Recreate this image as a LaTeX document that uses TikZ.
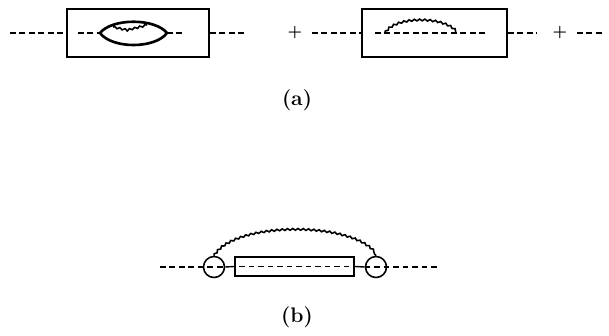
\documentclass[tikz,border=0pt]{standalone}
\usepackage{tikz}
\usetikzlibrary{positioning,decorations.pathmorphing}

\begin{document}
\begin{tikzpicture}[x=0.02cm,y=-0.02cm,
    prop/.style={dash pattern=on 3.2pt off 2.2pt, line width=0.8pt},
    boxed/.style={draw, line width=1.1pt, inner sep=0pt},
    wiggle/.style={decorate, decoration={snake, amplitude=0.5pt, segment length=3pt}, line width=0.9pt},
    vertex/.style={draw, circle, line width=0.9pt, minimum size=0.42cm, inner sep=0pt},
    plus/.style={font=\small\bfseries, inner sep=0pt},
    lbl/.style={font=\large\bfseries}]
  \useasboundingbox (0,0) rectangle (609,335);

  % (a) first term
  \node[boxed, minimum width=2.84cm, minimum height=0.96cm] (boxA) at (138,33) {};
  \coordinate (inA) at (10,33);
  \coordinate (outA) at (246,33);
  \coordinate (lensL) at (100,33);
  \coordinate (lensR) at (167,33);
  \draw[prop] (inA) -- (boxA.west);
  \draw[prop] (boxA.east) -- (outA);
  \draw[prop] (78,33) -- (lensL);
  \draw[prop] (lensR) -- (183,33);
  \draw[line width=1.5pt] (lensL) .. controls (112,18) and (155,18) .. (lensR)
                                  .. controls (155,49) and (112,49) .. (lensL);
  \draw[wiggle] (113,27) -- (127,30) -- (147,25);

  \node[plus] (plusA) at (295,33) {+};

  % (a) second term
  \node[boxed, minimum width=2.9cm, minimum height=0.96cm] (boxB) at (434.5,33) {};
  \coordinate (inB) at (312,33);
  \coordinate (outB) at (537,33);
  \draw[prop] (inB) -- (boxB.west);
  \draw[prop] (boxB.east) -- (outB);
  \draw[prop] (375,33) -- (488,33);
  \draw[wiggle] (385,33) .. controls (395,17) and (445,17) .. (456,33);

  \node[plus] (plusB) at (560,33) {+};
  \coordinate (tailB) at (605,33);
  \draw[prop] (577,33) -- (tailB);

  \node[lbl] (capA) at (297,100) {(a)};

  % (b)
  \node[vertex] (vL) at (214,267) {};
  \node[vertex] (vR) at (376,267) {};
  \node[boxed, minimum width=2.38cm, minimum height=0.38cm] (loopBox) at (294.5,266.5) {};
  \coordinate (inC) at (160,267);
  \coordinate (outC) at (440,267);
  \draw[prop] (inC) -- (vL.east);
  \draw[line width=0.8pt] (vL.east) -- (loopBox.west);
  \draw[prop] ([xshift=3pt]loopBox.west) -- ([xshift=-3pt]loopBox.east);
  \draw[line width=0.8pt] (loopBox.east) -- (vR.west);
  \draw[prop] (vR.west) -- (outC);
  \draw[wiggle] (vL.north) .. controls (235,222) and (355,222) .. (vR.north);

  \node[lbl] (capB) at (297,317) {(b)};
\end{tikzpicture}
\end{document}
